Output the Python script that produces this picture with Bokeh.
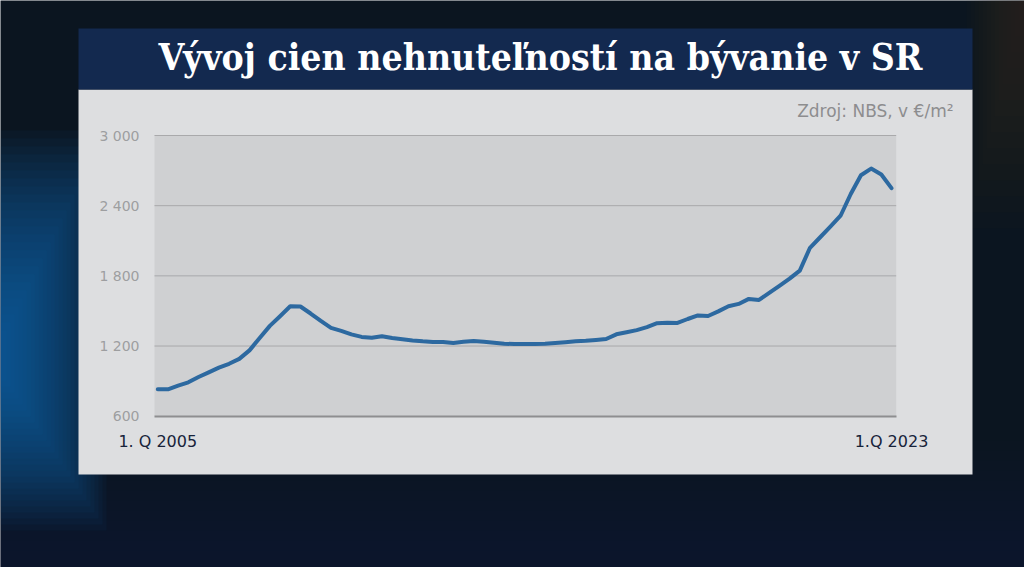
from bokeh.plotting import figure
from bokeh.models import BoxAnnotation, Label, FixedTicker, Range1d, LinearAxis
from bokeh.embed import file_html
from bokeh.resources import INLINE

# ---- data (quarterly, 1Q 2005 .. 1Q 2023), EUR per m2 ----
quarters = list(range(73))
prices = [830, 830, 862, 890, 935, 975, 1015, 1048, 1090, 1163,
          1268, 1372, 1455, 1540, 1538, 1478, 1415, 1355, 1330, 1300,
          1278, 1270, 1284, 1268, 1258, 1248, 1240, 1234, 1234, 1226,
          1236, 1243, 1236, 1228, 1220, 1217, 1217, 1218, 1220, 1226,
          1233, 1240, 1245, 1252, 1260, 1300, 1318, 1336, 1362, 1395,
          1400, 1397, 1431, 1462, 1457, 1496, 1540, 1560, 1603, 1594,
          1654, 1714, 1776, 1845, 2040, 2130, 2220, 2314, 2500, 2660,
          2717, 2666, 2550]
y_ticks = [600, 1200, 1800, 2400, 3000]
y_tick_labels = ["600", "1 200", "1 800", "2 400", "3 000"]
x_ticks = [0, 72]
x_tick_labels = ["1. Q 2005", "1.Q 2023"]
title_text = "Vývoj cien nehnuteľností na bývanie v SR"
source_text = "Zdroj: NBS, v €/m²"

W, H = 1024, 567
# plot area extents in data units
X_LO, X_HI = -0.32, 72.46
Y_LO, Y_HI = 600, 3000
# pixel geometry of plot area inside the page
PX_L, PX_R, PX_T, PX_B = 154.0, 895.7, 135.0, 415.7
sx = (PX_R - PX_L) / (X_HI - X_LO)
sy = (PX_B - PX_T) / (Y_HI - Y_LO)


def dx(px):
    return X_LO + (px - PX_L) / sx


def dy(py):
    return Y_LO + (PX_B - py) / sy


p = figure(width=W, height=H, output_backend="svg", toolbar_location=None,
           x_range=Range1d(dx(0), dx(W)), y_range=Range1d(dy(H), dy(0)),
           x_axis_location=None, y_axis_location=None,
           min_border=0, min_border_left=0, min_border_right=0,
           min_border_top=0, min_border_bottom=0)
p.border_fill_color = "#0b1520"
p.background_fill_color = "#0b1520"
p.outline_line_color = None
p.grid.visible = False


def box(l, r, t, b, color, alpha=1.0):
    p.add_layout(BoxAnnotation(left=dx(l), right=dx(r), top=dy(t), bottom=dy(b),
                               fill_color=color, fill_alpha=alpha, line_color=None,
                               level="underlay"))


# ---- background decoration ----
for k in range(12):
    box(0, W, 440 + 10 * k, H, "#0c2038", 0.07)
for k in range(26):
    box(0, 6 + 4 * k, 330 - 8 * k, 380 + 6 * k, "#1566b4", 0.055)
for k in range(14):
    box(W - 6 - 4 * k, W, 0, 20 + 16 * k, "#4a3418", 0.035)

# ---- panel, banner, plot area ----
box(78, 972, 89, 474, "#dddee0")
box(78, 972, 28, 89, "#13294f")
p.add_layout(BoxAnnotation(left=X_LO, right=X_HI, bottom=Y_LO, top=Y_HI,
                           fill_color="#cfd0d2", fill_alpha=1.0, line_color=None,
                           level="underlay"))

# ---- grid lines ----
p.segment(x0=X_LO, x1=X_HI, y0=y_ticks[1:], y1=y_ticks[1:],
          line_color="#a9a9ab", line_width=1)

# ---- axes (drawn at the edges of the plot area) ----
yaxis = LinearAxis(fixed_location=X_LO, bounds=(Y_LO, Y_HI),
                   ticker=FixedTicker(ticks=y_ticks),
                   major_label_overrides=dict(zip(y_ticks, y_tick_labels)))
yaxis.axis_line_color = None
yaxis.major_tick_line_color = None
yaxis.minor_tick_line_color = None
yaxis.major_tick_out = 0
yaxis.major_tick_in = 0
yaxis.major_label_standoff = 15
yaxis.major_label_text_font = "DejaVu Sans"
yaxis.major_label_text_font_size = "14px"
yaxis.major_label_text_color = "#9d9ea0"
p.add_layout(yaxis, "left")

xaxis = LinearAxis(fixed_location=Y_LO, bounds=(X_LO, X_HI),
                   ticker=FixedTicker(ticks=x_ticks),
                   major_label_overrides=dict(zip(x_ticks, x_tick_labels)))
xaxis.axis_line_color = "#8e8e90"
xaxis.axis_line_width = 2
xaxis.major_tick_line_color = None
xaxis.minor_tick_line_color = None
xaxis.major_tick_out = 0
xaxis.major_tick_in = 0
xaxis.major_label_standoff = 16
xaxis.major_label_text_font = "DejaVu Sans"
xaxis.major_label_text_font_size = "16px"
xaxis.major_label_text_color = "#17233a"
p.add_layout(xaxis, "below")

# ---- line ----
p.line(quarters, prices, line_color="#2d69a0", line_width=4, line_join="round", line_cap="round")

# ---- texts ----
p.add_layout(Label(x=dx(540), y=dy(56), text=title_text,
                   text_align="center", text_baseline="alphabetic", text_color="#ffffff",
                   text_font="DejaVu Serif Condensed", text_font_style="bold",
                   text_font_size="37px"))
p.add_layout(Label(x=dx(953), y=dy(110), text=source_text,
                   text_align="right", text_baseline="alphabetic", text_color="#8d8d8f",
                   text_font="DejaVu Sans", text_font_size="17px"))

open("out.html", "w").write(file_html(p, INLINE))
